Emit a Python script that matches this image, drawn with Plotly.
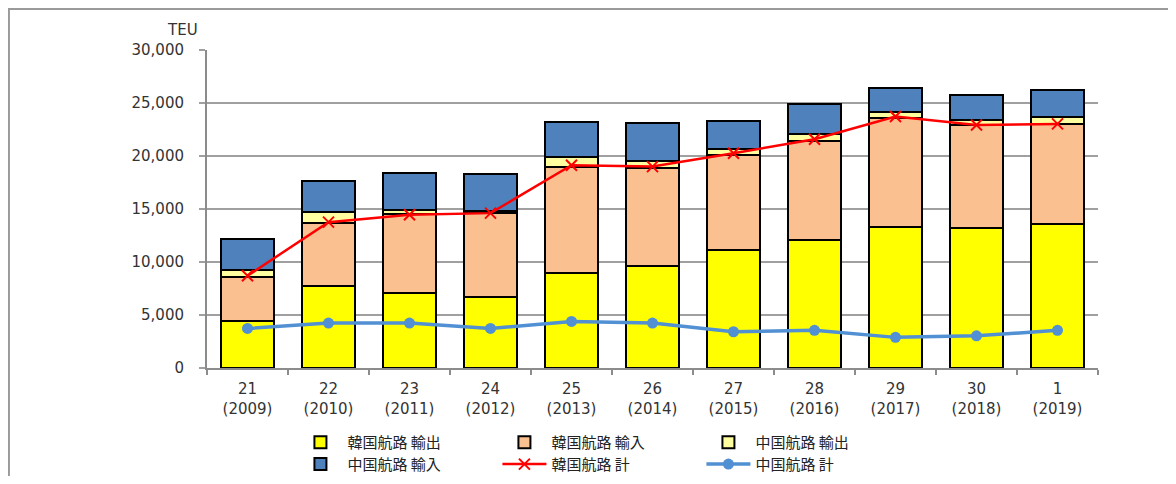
import plotly.graph_objects as go

categories = ["21<br>(2009)", "22<br>(2010)", "23<br>(2011)", "24<br>(2012)", "25<br>(2013)",
              "26<br>(2014)", "27<br>(2015)", "28<br>(2016)", "29<br>(2017)", "30<br>(2018)", "1<br>(2019)"]

korea_export = [4390, 7690, 7070, 6690, 8950, 9640, 11090, 12030, 13290, 13250, 13570]
korea_import = [4240, 5970, 7470, 7980, 10050, 9270, 9010, 9420, 10270, 9680, 9460]
china_export = [570, 1040, 380, 130, 880, 660, 540, 630, 630, 470, 690]
china_import = [2990, 2980, 3520, 3480, 3360, 3520, 2700, 2830, 2200, 2330, 2510]
korea_total = [8700, 13760, 14450, 14610, 19130, 19000, 20260, 21580, 23720, 22930, 23030]
china_total = [3730, 4240, 4240, 3730, 4390, 4240, 3420, 3550, 2890, 3040, 3550]

names = ["韓国航路 輸出", "韓国航路 輸入", "中国航路 輸出", "中国航路 輸入", "韓国航路 計", "中国航路 計"]
bar_colors = ["#FFFF00", "#FAC090", "#FFFFA0", "#4F81BD"]

FONT = "DejaVu Sans"
CJK = "Noto Sans CJK JP"

fig = go.Figure()
for i, vals in enumerate([korea_export, korea_import, china_export, china_import]):
    fig.add_trace(go.Bar(
        x=categories, y=vals, name=names[i],
        marker=dict(color=bar_colors[i], line=dict(color="#000000", width=2)),
        legend="legend" if i < 3 else "legend2",
    ))

fig.add_trace(go.Scatter(
    x=categories, y=korea_total, name=names[4], mode="lines+markers",
    line=dict(color="#FF0000", width=2.5),
    marker=dict(symbol="x-thin", size=11, line=dict(color="#FF0000", width=2)),
    legend="legend2",
))
fig.add_trace(go.Scatter(
    x=categories, y=china_total, name=names[5], mode="lines+markers",
    line=dict(color="#5090D3", width=3.5),
    marker=dict(symbol="circle", size=11, color="#5090D3"),
    legend="legend2",
))

legend_common = dict(
    orientation="h", xanchor="left", yanchor="middle",
    itemwidth=44, entrywidth=145, entrywidthmode="pixels",
    font=dict(family=CJK, size=15, color="#222222"),
    bgcolor="rgba(0,0,0,0)", tracegroupgap=0, traceorder="normal",
)

fig.update_layout(
    width=1160, height=468,
    margin=dict(l=199, r=70, t=42, b=108, autoexpand=False),
    paper_bgcolor="#FFFFFF", plot_bgcolor="#FFFFFF",
    barmode="stack", bargap=0.35,
    font=dict(family=FONT, size=14, color="#333333"),
    legend=dict(x=0.097, y=-0.234, **legend_common),
    legend2=dict(x=0.097, y=-0.303, **legend_common),
    xaxis=dict(
        type="category", range=[-0.5, 10.5], autorange=False,
        showgrid=False, showline=True, linecolor="#8C8C8C", linewidth=2,
        ticks="outside", tickson="boundaries", ticklen=5, tickcolor="#8C8C8C", tickwidth=2,
        tickfont=dict(family=FONT, size=15, color="#333333"), ticklabelstandoff=6,
        automargin=False,
    ),
    yaxis=dict(
        range=[0, 30000], autorange=False, dtick=5000, tickformat=",d",
        showgrid=True, gridcolor="#A0A0A0", gridwidth=2,
        showline=True, linecolor="#8C8C8C", linewidth=2,
        ticks="outside", ticklen=6, tickcolor="#A0A0A0", tickwidth=2,
        tickfont=dict(family=FONT, size=15, color="#333333"), ticklabelstandoff=12,
        zeroline=False, automargin=False,
    ),
    annotations=[dict(
        text="TEU", xref="paper", yref="paper", x=-0.027, y=1.063,
        xanchor="center", yanchor="middle",
        showarrow=False, font=dict(family=FONT, size=15, color="#333333"),
    )],
    shapes=[dict(
        type="rect", xref="paper", yref="paper",
        x0=-0.2223, x1=1.2, y0=-0.5, y1=1.1288,
        line=dict(color="#9A9A9A", width=2), fillcolor="rgba(0,0,0,0)", layer="below",
    )],
)

fig.write_html("out.html")
